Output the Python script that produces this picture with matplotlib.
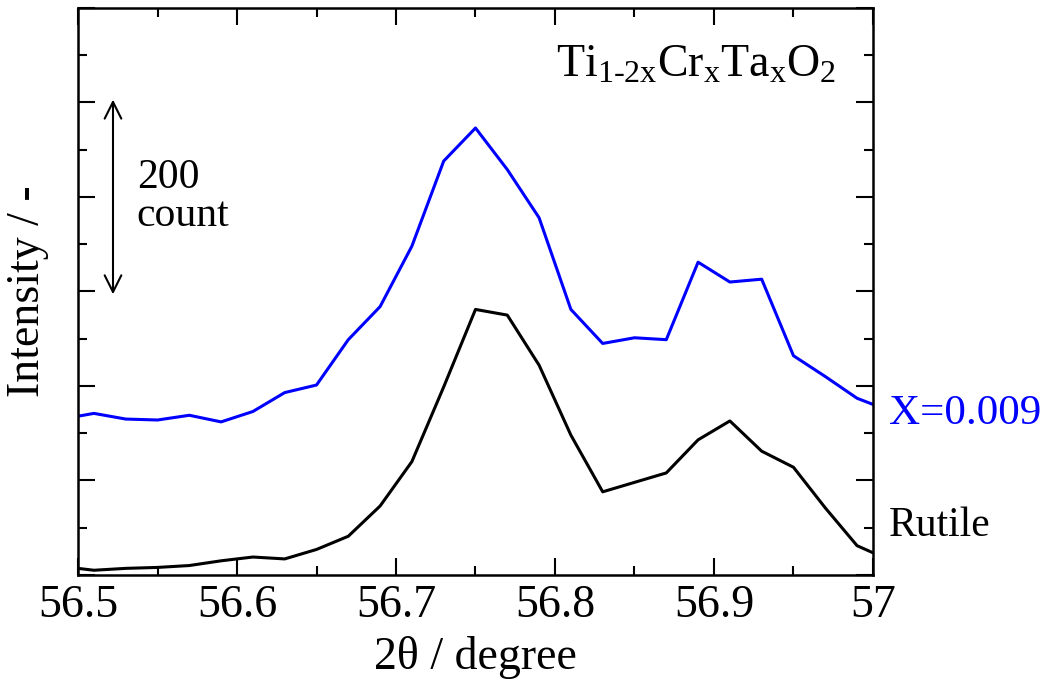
import matplotlib
matplotlib.use("Agg")
import matplotlib.pyplot as plt
from matplotlib.ticker import MultipleLocator

plt.rcParams['font.family'] = ['Liberation Serif', 'DejaVu Serif']
plt.rcParams['mathtext.fontset'] = 'custom'
plt.rcParams['mathtext.rm'] = 'Liberation Serif'
plt.rcParams['mathtext.it'] = 'Liberation Serif'

# 2theta values (deg), step 0.02
two_theta = [56.49, 56.51, 56.53, 56.55, 56.57, 56.59, 56.61, 56.63, 56.65,
             56.67, 56.69, 56.71, 56.73, 56.75, 56.77, 56.79, 56.81, 56.83,
             56.85, 56.87, 56.89, 56.91, 56.93, 56.95, 56.97, 56.99, 57.01]

# intensity (counts, offset)
x009 = [165, 171, 165, 164, 169, 162, 173, 193, 201,
        249, 284, 348, 438, 473, 429, 378, 281, 245,
        251, 249, 331, 310, 313, 232, 210, 187, 174]
rutile = [9, 5, 7, 8, 10, 15, 19, 17, 27,
          41, 73, 120, 199, 281, 275, 222, 148, 88,
          98, 108, 143, 163, 131, 114, 71, 31, 16]

fig = plt.figure(figsize=(10.5, 6.93), dpi=100)
ax = fig.add_axes([0.0743, 0.1703, 0.7571, 0.8182])

ax.plot(two_theta, x009, color='#0000ff', lw=2.2)
ax.plot(two_theta, rutile, color='black', lw=2.2)

ax.set_xlim(56.5, 57.0)
ax.set_ylim(0, 600)

ax.xaxis.set_major_locator(MultipleLocator(0.1))
ax.xaxis.set_minor_locator(MultipleLocator(0.05))
ax.yaxis.set_major_locator(MultipleLocator(100))
ax.yaxis.set_minor_locator(MultipleLocator(50))
ax.set_xticks([56.5, 56.6, 56.7, 56.8, 56.9, 57.0])
ax.set_xticklabels(['56.5', '56.6', '56.7', '56.8', '56.9', '57'])
ax.tick_params(which='both', direction='in', top=True, right=True, width=1.5)
ax.tick_params(which='major', length=12, labelsize=33, pad=7)
ax.tick_params(which='minor', length=6.5)
ax.tick_params(axis='y', labelleft=False)
for s in ax.spines.values():
    s.set_linewidth(1.8)

ax.set_xlabel('2θ / degree', fontsize=33)
ax.set_ylabel('Intensity / -', fontsize=33)
ax.yaxis.set_label_coords(-0.037, 0.5)
ax.xaxis.set_label_coords(0.5, -0.108)

# 200 count scale arrow
ax.annotate('', xy=(56.522, 503), xytext=(56.522, 297),
            arrowprops=dict(arrowstyle='<->', lw=1.5, color='black',
                            mutation_scale=30, shrinkA=0, shrinkB=0))
ax.text(56.537, 400, '200\ncount', fontsize=30, va='center', ha='left',
        linespacing=1.0)

ax.text(0.953, 0.878, r'Ti$_{\mathrm{1\text{-}2x}}$Cr$_{\mathrm{x}}$Ta$_{\mathrm{x}}$O$_{2}$',
        transform=ax.transAxes, fontsize=33, ha='right', va='baseline')

ax.text(1.02, 0.285, 'X=0.009', transform=ax.transAxes, color='#0000ff',
        fontsize=31, ha='left', va='center')
ax.text(1.02, 0.087, 'Rutile', transform=ax.transAxes, color='black',
        fontsize=30, ha='left', va='center')

fig.savefig('out.png', dpi=100)
